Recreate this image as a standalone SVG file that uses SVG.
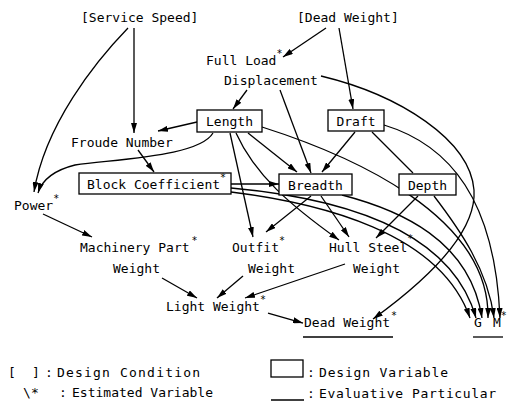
<svg xmlns="http://www.w3.org/2000/svg" width="511" height="404" viewBox="0 0 511 404">
<defs>
<style>
.t{font-family:"DejaVu Sans Mono","Liberation Mono",monospace;font-size:13px;fill:#000}
.s{font-size:10px}
.box{fill:#fff;stroke:#000;stroke-width:1.3}
.c{fill:none;stroke:#000;stroke-width:1.3}
.a{marker-end:url(#ah)}
.u{stroke:#000;stroke-width:1.3}
</style>
<marker id="ah" markerUnits="userSpaceOnUse" markerWidth="10" markerHeight="6" refX="10" refY="3" orient="auto">
<path d="M0,0 L10,3 L0,6 z" fill="#000"/>
</marker>
</defs>
<rect width="511" height="404" fill="#fff"/>
<g id="connectors">
<path class="c a" d="M134,28 L134,133"/>
<path class="c a" d="M128,28 C95,62 45,125 34,192"/>
<path class="c a" d="M326,28 L283,57"/>
<path class="c a" d="M339,28 L353,109"/>
<path class="c a" d="M247,90 L233,109"/>
<path class="c a" d="M280,90 L311,173"/>
<path class="c a" d="M321,76 C400,95 470,140 474,190 C477,235 420,285 373,319"/>
<path class="c a" d="M197,122 L158,131"/>
<path class="c a" d="M213,133 C200,155 130,158 75,165 C55,170 42,180 38,193"/>
<path class="c a" d="M248,133 L297,172"/>
<path class="c a" d="M230,133 L253,237"/>
<path class="c a" d="M236,133 C255,175 290,205 339,240"/>
<path class="c a" d="M262,127 C350,155 490,215 488,318"/>
<path class="c a" d="M355,132 L322,172"/>
<path class="c" d="M372,132 L413,173"/>
<path class="c a" d="M384,125 C450,145 495,200 500,318"/>
<path class="c a" d="M138,150 L154,172"/>
<path class="c a" d="M231,184 L279,184"/>
<path class="c a" d="M231,188 C330,197 450,225 476,318"/>
<path class="c a" d="M231,192 C320,203 440,232 470,318"/>
<path class="c a" d="M342,195 C400,210 470,240 482,318"/>
<path class="c a" d="M418,196 L376,238"/>
<path class="c a" d="M434,196 C460,230 488,270 494,318"/>
<path class="c a" d="M311,196 L266,232"/>
<path class="c a" d="M321,196 L349,237"/>
<path class="c a" d="M43,214 L92,237"/>
<path class="c a" d="M162,278 L197,298"/>
<path class="c a" d="M243,276 L217,298"/>
<path class="c a" d="M345,264 L245,298"/>
<path class="c a" d="M268,313 L303,323"/>
</g>
<g id="service-speed"><text class="t" x="81" y="22">[Service Speed]</text></g>
<g id="dead-weight-condition"><text class="t" x="297" y="22">[Dead Weight]</text></g>
<g id="full-load-displacement">
<text class="t" x="206" y="65">Full Load<tspan class="s" dy="-8">*</tspan></text>
<text class="t" x="224" y="85">Displacement</text>
</g>
<g id="length"><rect class="box" x="197" y="110" width="65" height="22"/><text class="t" x="229.5" y="126" text-anchor="middle">Length</text></g>
<g id="draft"><rect class="box" x="328" y="110" width="56" height="21"/><text class="t" x="356" y="126" text-anchor="middle">Draft</text></g>
<g id="froude-number"><text class="t" x="71" y="147">Froude Number</text></g>
<g id="block-coefficient"><rect class="box" x="79" y="173" width="152" height="21"/><text class="t" x="87" y="189">Block Coefficient<tspan class="s" dy="-8">*</tspan></text></g>
<g id="breadth"><rect class="box" x="279" y="174" width="73" height="21"/><text class="t" x="315.5" y="190" text-anchor="middle">Breadth</text></g>
<g id="depth"><rect class="box" x="399" y="174" width="57" height="21"/><text class="t" x="427.5" y="190" text-anchor="middle">Depth</text></g>
<g id="power"><text class="t" x="14" y="210">Power<tspan class="s" dy="-8">*</tspan></text></g>
<g id="machinery-part-weight">
<text class="t" x="80" y="252">Machinery Part<tspan class="s" dx="2" dy="-8">*</tspan></text>
<text class="t" x="113" y="273">Weight</text>
</g>
<g id="outfit-weight">
<text class="t" x="232" y="252">Outfit<tspan class="s" dy="-8">*</tspan></text>
<text class="t" x="248" y="273">Weight</text>
</g>
<g id="hull-steel-weight">
<text class="t" x="329" y="252">Hull Steel<tspan class="s" dy="-10">*</tspan></text>
<text class="t" x="353" y="273">Weight</text>
</g>
<g id="light-weight"><text class="t" x="166" y="311">Light Weight<tspan class="s" dy="-8">*</tspan></text></g>
<g id="dead-weight">
<text class="t" x="304" y="327">Dead Weight<tspan class="s" dx="1" dy="-8">*</tspan></text>
<line class="u" x1="303" y1="337" x2="393" y2="337"/>
</g>
<g id="gm">
<text class="t" y="327"><tspan x="474">G</tspan><tspan x="493">M</tspan><tspan class="s" dy="-8">*</tspan></text>
<line class="u" x1="473" y1="337" x2="503" y2="337"/>
</g>
<g id="legend">
<text class="t" x="8" y="377">[</text>
<text class="t" x="32" y="377">]</text>
<text class="t" x="45" y="377">:</text>
<text class="t" x="57" y="377" textLength="143">Design Condition</text>
<text class="t" x="23" y="397">\</text>
<text class="t" x="31" y="397">*</text>
<text class="t" x="59" y="397">:</text>
<text class="t" x="72" y="397" textLength="141">Estimated Variable</text>
<rect class="box" x="271" y="360" width="32" height="17"/>
<text class="t" x="307" y="377">:</text>
<text class="t" x="319" y="377" textLength="129">Design Variable</text>
<line class="u" x1="271" y1="400" x2="304" y2="400"/>
<text class="t" x="307" y="398">:</text>
<text class="t" x="319" y="398" textLength="177">Evaluative Particular</text>
</g>
</svg>
